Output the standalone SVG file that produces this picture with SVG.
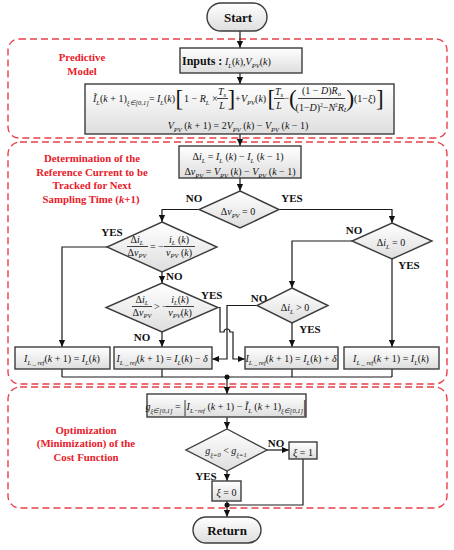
<svg xmlns="http://www.w3.org/2000/svg" width="454" height="550" viewBox="0 0 454 550">
<defs>
<linearGradient id="g" x1="0" y1="0" x2="0" y2="1"><stop offset="0" stop-color="#ffffff"/><stop offset="1" stop-color="#dedede"/></linearGradient>
<marker id="ar" viewBox="0 0 8 8" refX="8" refY="4" markerWidth="7" markerHeight="7" markerUnits="userSpaceOnUse" orient="auto"><path d="M0,0.5 L8,4 L0,7.5 Z" fill="#111"/></marker>
<style>
.box{fill:url(#g);stroke:#3c3c3c;stroke-width:1.4}
.dash{fill:none;stroke:#e8404a;stroke-width:1.4;stroke-dasharray:7 4}
.ln{fill:none;stroke:#1a1a1a;stroke-width:1.2}
.arw{marker-end:url(#ar)}
.red{font-family:"Liberation Serif",serif;font-weight:bold;font-size:10.8px;fill:#e8202a;text-anchor:middle}
.lb{font-family:"Liberation Serif",serif;font-weight:bold;font-size:11px;fill:#111;text-anchor:middle}
.st{text-anchor:start}
.tt{font-family:"Liberation Serif",serif;font-weight:bold;font-size:13px;fill:#111;text-anchor:middle}
.m{font-family:"Liberation Serif",serif;font-size:10px;fill:#111}
.c{text-anchor:middle}
.i{font-style:italic}
.s{font-style:italic;font-size:6.5px}
.br{font-family:"Liberation Serif",serif;font-size:23px;fill:#111}
.fl{stroke:#111;stroke-width:0.8}
</style>
</defs>

<!-- dashed regions -->
<g id="regions">
<rect class="dash" x="8" y="39" width="439" height="99" rx="11"/>
<rect class="dash" x="8" y="142" width="439" height="242" rx="12"/>
<rect class="dash" x="8" y="387" width="439" height="121" rx="12"/>
<text class="red" x="82" y="61">Predictive</text>
<text class="red" x="82" y="75">Model</text>
<text class="red" x="92" y="162">Determination of the</text>
<text class="red" x="92" y="176">Reference Current to be</text>
<text class="red" x="92" y="189">Tracked for Next</text>
<text class="red" x="91" y="203">Sampling Time (<tspan font-style="italic">k</tspan>+1)</text>
<text class="red" x="86" y="434">Optimization</text>
<text class="red" x="86" y="447">(Minimization) of the</text>
<text class="red" x="86" y="461">Cost Function</text>
</g>

<!-- connectors -->
<g id="connectors">
<path class="ln arw" d="M240,31 V48"/>
<path class="ln arw" d="M240,73 V84"/>
<path class="ln arw" d="M240,134 V146"/>
<path class="ln arw" d="M240,178 V191"/>
<path class="ln arw" d="M199,209.5 H162 V222"/>
<path class="ln arw" d="M279,209.5 H392 V223"/>
<path class="ln arw" d="M107,247 H62 V347"/>
<path class="ln arw" d="M162,272 V283"/>
<path class="ln arw" d="M352,241 H292 V288"/>
<path class="ln arw" d="M392,259 V347"/>
<path class="ln arw" d="M162,332 V347"/>
<path class="ln arw" d="M292,323 V347"/>
<path class="ln arw" d="M257,305.5 H227 V359 H212"/>
<path class="ln arw" d="M218,307.5 H220 V332 H224 A3,3 0 0 1 230,332 H233 V359 H245"/>
<path class="ln" d="M62,369 V377 M162,369 V377 M292,369 V377 M392,369 V377 M62,377 H392"/>
<circle cx="227" cy="377" r="2.5" fill="#111"/>
<path class="ln arw" d="M227,377 V394"/>
<path class="ln arw" d="M227,417 V429"/>
<path class="ln arw" d="M267,450 H289"/>
<path class="ln arw" d="M227,471 V481"/>
<path class="ln" d="M303,459 V505 H227"/>
<circle cx="227" cy="505" r="2.5" fill="#111"/>
<path class="ln arw" d="M227,501 V517"/>
<text class="lb" x="194" y="202">NO</text>
<text class="lb" x="292" y="202">YES</text>
<text class="lb" x="112" y="236">YES</text>
<text class="lb st" x="166" y="280">NO</text>
<text class="lb st" x="201" y="299">YES</text>
<text class="lb" x="142" y="341">NO</text>
<text class="lb" x="354" y="234">NO</text>
<text class="lb" x="409" y="269">YES</text>
<text class="lb" x="259" y="302">NO</text>
<text class="lb" x="310" y="333">YES</text>
<text class="lb" x="276" y="447">NO</text>
<text class="lb" x="206" y="480">YES</text>
</g>

<g id="start">
<rect class="box" x="207" y="3" width="60" height="28" rx="14"/>
<text class="tt" x="238" y="22">Start</text>
</g>

<g id="inputs">
<rect class="box" x="180" y="48" width="122" height="25"/>
<text x="182" y="65" font-family="Liberation Serif, serif" font-weight="bold" font-size="12" fill="#111">Inputs :</text>
<text class="m" x="225" y="65" font-size="14"><tspan class="i">I</tspan><tspan class="s" font-size="9" dy="3">L</tspan><tspan dy="-3">(</tspan><tspan class="i">k</tspan><tspan>),</tspan><tspan class="i">V</tspan><tspan class="s" font-size="9" dy="3">PV</tspan><tspan dy="-3">(</tspan><tspan class="i">k</tspan><tspan>)</tspan></text>
</g>

<g id="predictive-model">
<rect class="box" x="85" y="84" width="309" height="50"/>
<text class="m" x="93" y="102"><tspan class="i">Ĩ</tspan><tspan class="s" dy="2.5">L</tspan><tspan dy="-2.5">(</tspan><tspan class="i">k</tspan><tspan> + 1)</tspan><tspan class="s" dy="3">ξ∈[0,1]</tspan></text>
<text class="m" x="149" y="102">=</text>
<text class="m" x="157" y="102"><tspan class="i">I</tspan><tspan class="s" dy="2.5">L</tspan><tspan dy="-2.5">(</tspan><tspan class="i">k</tspan><tspan>)</tspan></text>
<text class="br" x="175.5" y="106">[</text>
<text class="m" x="184" y="102">1 − <tspan class="i">R</tspan><tspan class="s" dy="2.5">L</tspan><tspan dy="-2.5"> ×</tspan></text>
<text class="m c" x="222" y="95"><tspan class="i">T</tspan><tspan class="s" dy="2">s</tspan></text>
<path class="fl" d="M217,98.5 H228"/>
<text class="m c i" x="222" y="109">L</text>
<text class="br" x="227.5" y="106">]</text>
<text class="m" x="235" y="102">+</text>
<text class="m" x="241" y="102"><tspan class="i">V</tspan><tspan class="s" dy="2.5">PV</tspan><tspan dy="-2.5">(</tspan><tspan class="i">k</tspan><tspan>)</tspan></text>
<text class="br" x="267.5" y="106">[</text>
<text class="m c" x="279" y="95"><tspan class="i">T</tspan><tspan class="s" dy="2">s</tspan></text>
<path class="fl" d="M274,98.5 H284"/>
<text class="m c i" x="279" y="109">L</text>
<text class="m" x="283.5" y="102">−</text>
<text class="br" x="289" y="106">(</text>
<text class="m c" x="321.5" y="94">(1 − <tspan class="i">D</tspan>)<tspan class="i">R</tspan><tspan class="s" dy="1.5">o</tspan></text>
<path class="fl" d="M298,98.5 H345"/>
<text class="m c" x="321.5" y="110.5" font-size="7.6">(1−<tspan class="i">D</tspan>)<tspan font-size="5.2" dy="-3.3">2</tspan><tspan dy="3.3">−</tspan><tspan class="i">N</tspan><tspan font-size="5.2" dy="-3.3">2</tspan><tspan class="i" dy="3.3">R</tspan><tspan class="s" font-size="5.2" dy="1.5">L</tspan></text>
<text class="br" x="346.5" y="106">)</text>
<text class="m" x="354" y="102">(1−<tspan class="i">ξ</tspan>)</text>
<text class="br" x="376" y="106">]</text>
<text class="m c" x="238" y="129" font-size="10.5"><tspan class="i">V</tspan><tspan class="s" dy="2.5">PV</tspan><tspan dy="-2.5"> (</tspan><tspan class="i">k</tspan><tspan> + 1) = 2</tspan><tspan class="i">V</tspan><tspan class="s" dy="2.5">PV</tspan><tspan dy="-2.5"> (</tspan><tspan class="i">k</tspan><tspan>) − </tspan><tspan class="i">V</tspan><tspan class="s" dy="2.5">PV</tspan><tspan dy="-2.5"> (</tspan><tspan class="i">k</tspan><tspan> − 1)</tspan></text>
</g>

<g id="delta">
<rect class="box" x="179" y="146" width="122" height="32"/>
<text class="m c" x="238" y="160" font-size="11.5">Δ<tspan class="i">i</tspan><tspan class="s" font-size="7" dy="2.5">L</tspan><tspan dy="-2.5"> = </tspan><tspan class="i">I</tspan><tspan class="s" font-size="7" dy="2.5">L</tspan><tspan dy="-2.5"> (</tspan><tspan class="i">k</tspan><tspan>) − </tspan><tspan class="i">I</tspan><tspan class="s" font-size="7" dy="2.5">L</tspan><tspan dy="-2.5"> (</tspan><tspan class="i">k</tspan><tspan> − 1)</tspan></text>
<text class="m c" x="240" y="175" font-size="11.5">Δ<tspan class="i">v</tspan><tspan class="s" font-size="7" dy="2.5">PV</tspan><tspan dy="-2.5"> = </tspan><tspan class="i">V</tspan><tspan class="s" font-size="7" dy="2.5">PV</tspan><tspan dy="-2.5"> (</tspan><tspan class="i">k</tspan><tspan>) − </tspan><tspan class="i">V</tspan><tspan class="s" font-size="7" dy="2.5">PV</tspan><tspan dy="-2.5"> (</tspan><tspan class="i">k</tspan><tspan> − 1)</tspan></text>
</g>

<g id="d-dv0">
<polygon class="box" points="240,191 279,209.5 240,228 199,209.5"/>
<text class="m c" x="238" y="215" font-size="15">Δ<tspan class="i">v</tspan><tspan class="s" font-size="9" dy="3">PV</tspan><tspan dy="-3"> = 0</tspan></text>
</g>

<g id="d-eq">
<polygon class="box" points="162,222 217,247 162,272 107,247"/>
<text class="m c" x="137" y="243">Δ<tspan class="i">i</tspan><tspan class="s" dy="2">L</tspan></text>
<path class="fl" d="M127,246.5 H148"/>
<text class="m c" x="137" y="256">Δ<tspan class="i">v</tspan><tspan class="s" dy="2">PV</tspan></text>
<text class="m" x="150" y="250">= −</text>
<text class="m c" x="179" y="243"><tspan class="i">i</tspan><tspan class="s" dy="2">L</tspan><tspan dy="-2"> (</tspan><tspan class="i">k</tspan>)</text>
<path class="fl" d="M164,246.5 H195"/>
<text class="m c" x="179" y="256"><tspan class="i">v</tspan><tspan class="s" dy="2">PV</tspan><tspan dy="-2"> (</tspan><tspan class="i">k</tspan>)</text>
</g>

<g id="d-di0">
<polygon class="box" points="392,223 432,241 392,259 352,241"/>
<text class="m c" x="391" y="246" font-size="14.5">Δ<tspan class="i">i</tspan><tspan class="s" font-size="9" dy="3">L</tspan><tspan dy="-3"> = 0</tspan></text>
</g>

<g id="d-gt">
<polygon class="box" points="162,283 218,307.5 162,332 106,307.5"/>
<text class="m c" x="142" y="303">Δ<tspan class="i">i</tspan><tspan class="s" dy="2">L</tspan></text>
<path class="fl" d="M132,306.5 H152"/>
<text class="m c" x="142" y="316">Δ<tspan class="i">v</tspan><tspan class="s" dy="2">PV</tspan></text>
<text class="m" x="154" y="310">&gt; −</text>
<text class="m c" x="180" y="303"><tspan class="i">i</tspan><tspan class="s" dy="2">L</tspan><tspan dy="-2">(</tspan><tspan class="i">k</tspan>)</text>
<path class="fl" d="M166,306.5 H194"/>
<text class="m c" x="180" y="316"><tspan class="i">v</tspan><tspan class="s" dy="2">PV</tspan><tspan dy="-2">(</tspan><tspan class="i">k</tspan>)</text>
</g>

<g id="d-digt">
<polygon class="box" points="292,288 328,305.5 292,323 257,305.5"/>
<text class="m c" x="295" y="311" font-size="14.5">Δ<tspan class="i">i</tspan><tspan class="s" font-size="9" dy="3">L</tspan><tspan dy="-3"> &gt; 0</tspan></text>
</g>

<g id="b1">
<rect class="box" x="15" y="347" width="95" height="22"/>
<text class="m c" x="62" y="362" font-size="10.5"><tspan class="i">I</tspan><tspan class="s" font-size="6" dy="2.5">L _ ref</tspan><tspan dy="-2.5">(</tspan><tspan class="i">k</tspan><tspan> + 1) = </tspan><tspan class="i">I</tspan><tspan class="s" font-size="6.5" dy="2.5">L</tspan><tspan dy="-2.5">(</tspan><tspan class="i">k</tspan>)</text>
</g>
<g id="b2">
<rect class="box" x="114" y="347" width="98" height="22"/>
<text class="m c" x="162" y="362" font-size="10.5"><tspan class="i">I</tspan><tspan class="s" font-size="6" dy="2.5">L _ ref</tspan><tspan dy="-2.5">(</tspan><tspan class="i">k</tspan><tspan> + 1) = </tspan><tspan class="i">I</tspan><tspan class="s" font-size="6.5" dy="2.5">L</tspan><tspan dy="-2.5">(</tspan><tspan class="i">k</tspan><tspan>) − </tspan><tspan class="i">δ</tspan></text>
</g>
<g id="b3">
<rect class="box" x="245" y="347" width="93" height="22"/>
<text class="m c" x="291" y="362" font-size="10.5"><tspan class="i">I</tspan><tspan class="s" font-size="6" dy="2.5">L _ ref</tspan><tspan dy="-2.5">(</tspan><tspan class="i">k</tspan><tspan> + 1) = </tspan><tspan class="i">I</tspan><tspan class="s" font-size="6.5" dy="2.5">L</tspan><tspan dy="-2.5">(</tspan><tspan class="i">k</tspan><tspan>) + </tspan><tspan class="i">δ</tspan></text>
</g>
<g id="b4">
<rect class="box" x="344" y="347" width="95" height="22"/>
<text class="m c" x="391" y="362" font-size="10.5"><tspan class="i">I</tspan><tspan class="s" font-size="6" dy="2.5">L _ ref</tspan><tspan dy="-2.5">(</tspan><tspan class="i">k</tspan><tspan> + 1) = </tspan><tspan class="i">I</tspan><tspan class="s" font-size="6.5" dy="2.5">L</tspan><tspan dy="-2.5">(</tspan><tspan class="i">k</tspan>)</text>
</g>

<g id="cost">
<rect class="box" x="147" y="394" width="159" height="23"/>
<text class="m c" x="226" y="410" font-size="11"><tspan class="i">g</tspan><tspan class="s" dy="2.5">ξ∈[0,1]</tspan><tspan dy="-2.5"> = </tspan><tspan font-size="17" dy="2">|</tspan><tspan class="i" dy="-2">I</tspan><tspan class="s" dy="2.5">L−ref</tspan><tspan dy="-2.5"> (</tspan><tspan class="i">k</tspan><tspan> + 1) − </tspan><tspan class="i">Ĩ</tspan><tspan class="s" dy="2.5">L</tspan><tspan dy="-2.5"> (</tspan><tspan class="i">k</tspan><tspan> + 1)</tspan><tspan class="s" dy="3">ξ∈[0,1]</tspan><tspan font-size="17" dy="-1">|</tspan></text>
</g>

<g id="d-cost">
<polygon class="box" points="227,429 267,450 227,471 186,450"/>
<text class="m c" x="226" y="454" font-size="13"><tspan class="i">g</tspan><tspan class="s" font-size="7.5" dy="3">ξ=0</tspan><tspan dy="-3"> &lt; </tspan><tspan class="i">g</tspan><tspan class="s" font-size="7.5" dy="3">ξ=1</tspan></text>
</g>

<g id="xi1">
<rect class="box" x="289" y="442" width="28" height="17"/>
<text class="m c" x="303" y="455.5" font-size="13"><tspan class="i">ξ</tspan> = 1</text>
</g>

<g id="xi0">
<rect class="box" x="212" y="481" width="29" height="20"/>
<text class="m c" x="226.5" y="496" font-size="13"><tspan class="i">ξ</tspan> = 0</text>
</g>

<g id="return">
<rect class="box" x="193" y="517" width="68" height="26" rx="13"/>
<text class="tt" x="227" y="535">Return</text>
</g>
</svg>
